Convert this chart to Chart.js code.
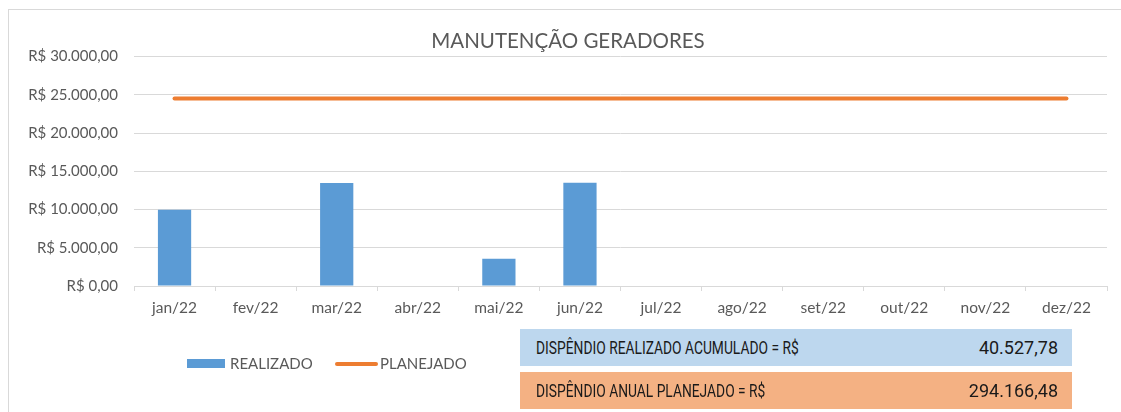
<!DOCTYPE html>
<html>
<head>
<meta charset="utf-8">
<script src="https://cdn.jsdelivr.net/npm/chart.js@4"></script>
<style>
  html, body { margin:0; padding:0; background:#fff; width:1121px; height:412px; overflow:hidden; }
  #wrap { position:relative; width:1121px; height:412px; }
  #frame { position:absolute; left:8px; top:9px; width:1130px; height:420px; border:1px solid #d9d9d9; box-sizing:border-box; }
  canvas { position:absolute; left:0; top:0; }
  .leg { position:absolute; font-family:Lato, sans-serif; font-size:15px; color:#595959; top:354px; line-height:18px; }
  .box { position:absolute; left:520px; width:552px; height:37px; font-family:Roboto, sans-serif; font-size:18px; color:#1a1a1a; line-height:37px; }
  .box .lbl { position:absolute; left:16px; top:0; transform-origin:left center; white-space:nowrap; }
  .box .val { position:absolute; right:14px; top:0; }
</style>
</head>
<body>
<div id="wrap">
  <div id="frame"></div>
  <canvas id="chart" width="1121" height="412"></canvas>
  <div class="leg" style="left:187px;top:359px;width:38px;height:9px;background:#5b9bd5"></div>
  <div class="leg" style="left:230px">REALIZADO</div>
  <div class="leg" style="left:335px;top:362px;width:43px;height:4px;border-radius:2px;background:#ed7d31"></div>
  <div class="leg" style="left:380px">PLANEJADO</div>
  <div class="box" style="top:329px;background:#bdd7ee"><span class="lbl" id="lblReal">DISPÊNDIO REALIZADO ACUMULADO = R$</span><span class="val" id="totReal"></span></div>
  <div class="box" style="top:372px;background:#f4b183"><span class="lbl" id="lblPlan">DISPÊNDIO ANUAL PLANEJADO = R$</span><span class="val" id="totPlan"></span></div>
</div>
<script>
// Dados
const meses = ['jan/22','fev/22','mar/22','abr/22','mai/22','jun/22','jul/22','ago/22','set/22','out/22','nov/22','dez/22'];
const realizado = [9980, 0, 13480, 0, 3560, 13507.78, null, null, null, null, null, null];
const planejado = [24513.87, 24513.87, 24513.87, 24513.87, 24513.87, 24513.87, 24513.87, 24513.87, 24513.87, 24513.87, 24513.87, 24513.87];
const totalRealizado = 40527.78;
const totalPlanejado = 294166.48;

function brl(v) {
  const parts = Number(v).toFixed(2).split('.');
  parts[0] = parts[0].replace(/\B(?=(\d{3})+(?!\d))/g, '.');
  return parts.join(',');
}

document.getElementById('totReal').textContent = brl(totalRealizado);
document.getElementById('totPlan').textContent = brl(totalPlanejado);

// labels condensed like the narrow font in the original
const sx = 263 / document.getElementById('lblReal').offsetWidth;
['lblReal', 'lblPlan'].forEach(id => document.getElementById(id).style.transform = `scaleX(${sx})`);

const ctx = document.getElementById('chart').getContext('2d');
new Chart(ctx, {
  data: {
    labels: meses,
    datasets: [
      { type: 'line', label: 'PLANEJADO', data: planejado, borderColor: '#ed7d31', borderWidth: 4, pointRadius: 0, borderCapStyle: 'round', order: 0 },
      { type: 'bar', label: 'REALIZADO', data: realizado, backgroundColor: '#5b9bd5', barPercentage: 0.41, categoryPercentage: 1, order: 1 }
    ]
  },
  options: {
    responsive: false,
    animation: false,
    layout: { padding: { left: 29, right: 14, top: 0, bottom: 96 } },
    plugins: {
      legend: { display: false },
      tooltip: { enabled: false },
      title: {
        display: true,
        text: 'MANUTENÇÃO GERADORES',
        color: '#595959',
        font: { family: 'Lato', size: 20.5, weight: 'normal' },
        padding: { top: 29, bottom: 3 }
      }
    },
    scales: {
      x: {
        grid: { drawOnChartArea: false, drawTicks: true, tickLength: 5, color: '#d9d9d9' },
        border: { color: '#d9d9d9' },
        ticks: { color: '#595959', font: { family: 'Lato', size: 15.5 }, padding: 8, maxRotation: 0 },
        afterFit(scale) { scale.height = 30; }
      },
      y: {
        min: 0, max: 30000,
        grid: { color: '#d9d9d9', drawTicks: false },
        border: { display: false },
        ticks: { stepSize: 5000, color: '#595959', font: { family: 'Lato', size: 15 }, padding: 16, callback: v => 'R$ ' + brl(v) },
        afterFit(scale) { scale.width = 105; }
      }
    }
  }
});
</script>
</body>
</html>
